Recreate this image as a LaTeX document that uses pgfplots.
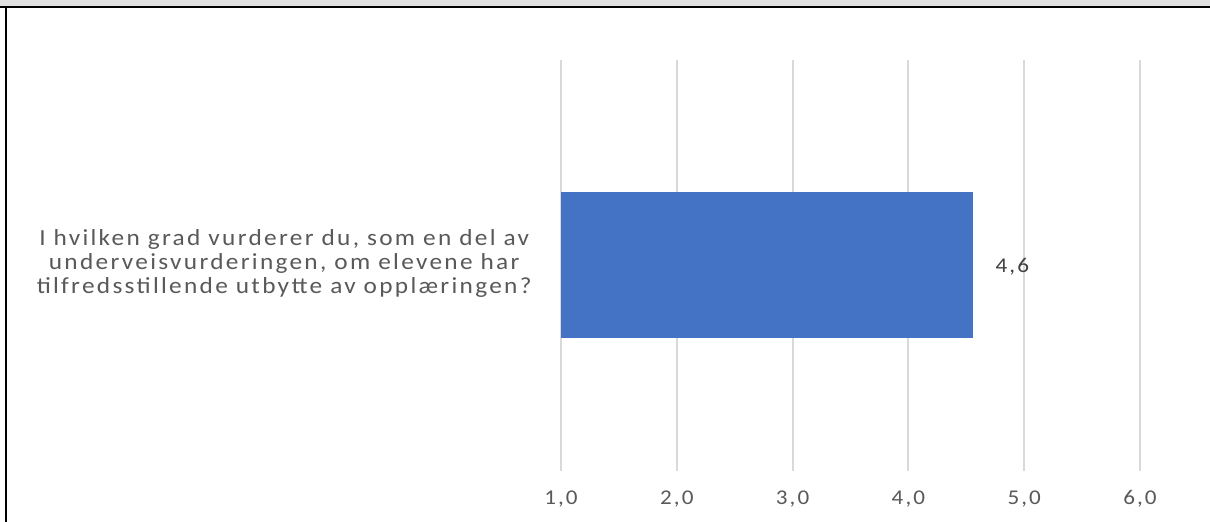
\documentclass[border=0pt]{standalone}
\usepackage{pgfplots}
\pgfplotsset{compat=1.18}
\usepackage{fontspec}
\setmainfont{Carlito}[LetterSpace=10, FakeStretch=1.1]
\definecolor{barblue}{HTML}{4472C4}
\definecolor{gridgrey}{HTML}{D9D9D9}
\definecolor{labgrey}{HTML}{595959}
\definecolor{valgrey}{HTML}{404040}
\definecolor{bandgrey}{HTML}{E0E0E0}
\begin{document}
\fontsize{11.5pt}{12pt}\selectfont
\begin{tikzpicture}
\path[use as bounding box] (0,0) rectangle (605pt,261pt);
\fill[white] (0,0) rectangle (605pt,261pt);
\fill[bandgrey] (0,258pt) rectangle (605pt,261pt);
\draw[black,line width=1pt] (0,257.5pt) -- (605pt,257.5pt);
\draw[black,line width=1pt] (3pt,0) -- (3pt,257.5pt);
\begin{axis}[
  at={(280.5pt,25.5pt)}, anchor=south west,
  scale only axis, width=289.5pt, height=205.5pt,
  xbar, bar width=73pt,
  xmin=1, xmax=6, ymin=0, ymax=205.5,
  enlargelimits=false,
  axis line style={draw=none},
  xtick={1,2,3,4,5,6},
  xmajorgrids, grid style={gridgrey, line width=1pt},
  major tick length=0pt,
  xticklabel style={labgrey, anchor=north, inner sep=0pt, yshift=-9.5pt, font=\fontsize{10.5pt}{12pt}\selectfont},
  /pgf/number format/.cd, fixed, fixed zerofill, precision=1, use comma, assume math mode=true,
  /pgfplots/.cd,
  ytick={103.5},
  yticklabel={I hvilken grad vurderer du, som en del av\\underveisvurderingen, om elevene har\\tilfredsstillende utbytte av opplæringen?},
  yticklabel style={labgrey, align=center, inner sep=0pt, xshift=-14.5pt, font=\fontsize{11.5pt}{12pt}\selectfont},
  nodes near coords,
  every node near coord/.append style={valgrey, anchor=west, inner sep=0pt, xshift=11pt, yshift=-1pt, font=\fontsize{10.5pt}{12pt}\selectfont},
  point meta=x,
  clip=false,
]
\addplot[fill=barblue, draw=none, bar shift=0pt] coordinates {(4.56,103)};
\end{axis}
\end{tikzpicture}
\end{document}
